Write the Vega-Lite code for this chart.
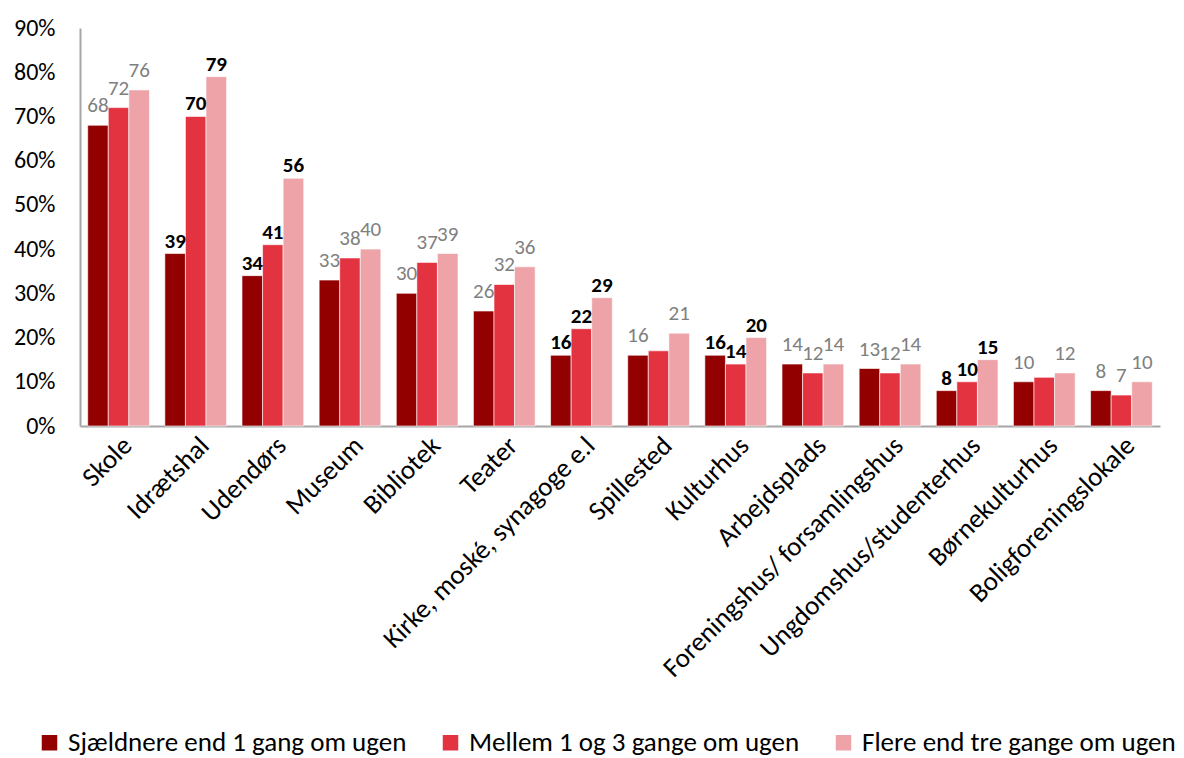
{
  "$schema": "https://vega.github.io/schema/vega-lite/v6.json",
  "width": 1080,
  "height": 398,
  "autosize": {"type": "none"},
  "padding": {"left": 80, "top": 28, "right": 24, "bottom": 332},
  "background": "white",
  "config": {
    "font": "Carlito, Liberation Sans Narrow, sans-serif",
    "view": {"stroke": null}
  },
  "data": {
    "values": [
      {"sted": "Skole", "serie": "Sjældnere end 1 gang om ugen", "pct": 68, "sig": "nej"},
      {"sted": "Skole", "serie": "Mellem 1 og 3 gange om ugen", "pct": 72, "sig": "nej"},
      {"sted": "Skole", "serie": "Flere end tre gange om ugen", "pct": 76, "sig": "nej"},
      {"sted": "Idrætshal", "serie": "Sjældnere end 1 gang om ugen", "pct": 39, "sig": "ja"},
      {"sted": "Idrætshal", "serie": "Mellem 1 og 3 gange om ugen", "pct": 70, "sig": "ja"},
      {"sted": "Idrætshal", "serie": "Flere end tre gange om ugen", "pct": 79, "sig": "ja"},
      {"sted": "Udendørs", "serie": "Sjældnere end 1 gang om ugen", "pct": 34, "sig": "ja"},
      {"sted": "Udendørs", "serie": "Mellem 1 og 3 gange om ugen", "pct": 41, "sig": "ja"},
      {"sted": "Udendørs", "serie": "Flere end tre gange om ugen", "pct": 56, "sig": "ja"},
      {"sted": "Museum", "serie": "Sjældnere end 1 gang om ugen", "pct": 33, "sig": "nej"},
      {"sted": "Museum", "serie": "Mellem 1 og 3 gange om ugen", "pct": 38, "sig": "nej"},
      {"sted": "Museum", "serie": "Flere end tre gange om ugen", "pct": 40, "sig": "nej"},
      {"sted": "Bibliotek", "serie": "Sjældnere end 1 gang om ugen", "pct": 30, "sig": "nej"},
      {"sted": "Bibliotek", "serie": "Mellem 1 og 3 gange om ugen", "pct": 37, "sig": "nej"},
      {"sted": "Bibliotek", "serie": "Flere end tre gange om ugen", "pct": 39, "sig": "nej"},
      {"sted": "Teater", "serie": "Sjældnere end 1 gang om ugen", "pct": 26, "sig": "nej"},
      {"sted": "Teater", "serie": "Mellem 1 og 3 gange om ugen", "pct": 32, "sig": "nej"},
      {"sted": "Teater", "serie": "Flere end tre gange om ugen", "pct": 36, "sig": "nej"},
      {"sted": "Kirke, moské, synagoge e.l", "serie": "Sjældnere end 1 gang om ugen", "pct": 16, "sig": "ja"},
      {"sted": "Kirke, moské, synagoge e.l", "serie": "Mellem 1 og 3 gange om ugen", "pct": 22, "sig": "ja"},
      {"sted": "Kirke, moské, synagoge e.l", "serie": "Flere end tre gange om ugen", "pct": 29, "sig": "ja"},
      {"sted": "Spillested", "serie": "Sjældnere end 1 gang om ugen", "pct": 16, "sig": "nej"},
      {"sted": "Spillested", "serie": "Mellem 1 og 3 gange om ugen", "pct": 17, "sig": "ingen"},
      {"sted": "Spillested", "serie": "Flere end tre gange om ugen", "pct": 21, "sig": "nej"},
      {"sted": "Kulturhus", "serie": "Sjældnere end 1 gang om ugen", "pct": 16, "sig": "ja"},
      {"sted": "Kulturhus", "serie": "Mellem 1 og 3 gange om ugen", "pct": 14, "sig": "ja"},
      {"sted": "Kulturhus", "serie": "Flere end tre gange om ugen", "pct": 20, "sig": "ja"},
      {"sted": "Arbejdsplads", "serie": "Sjældnere end 1 gang om ugen", "pct": 14, "sig": "nej"},
      {"sted": "Arbejdsplads", "serie": "Mellem 1 og 3 gange om ugen", "pct": 12, "sig": "nej"},
      {"sted": "Arbejdsplads", "serie": "Flere end tre gange om ugen", "pct": 14, "sig": "nej"},
      {"sted": "Foreningshus/ forsamlingshus", "serie": "Sjældnere end 1 gang om ugen", "pct": 13, "sig": "nej"},
      {"sted": "Foreningshus/ forsamlingshus", "serie": "Mellem 1 og 3 gange om ugen", "pct": 12, "sig": "nej"},
      {"sted": "Foreningshus/ forsamlingshus", "serie": "Flere end tre gange om ugen", "pct": 14, "sig": "nej"},
      {"sted": "Ungdomshus/studenterhus", "serie": "Sjældnere end 1 gang om ugen", "pct": 8, "sig": "ja"},
      {"sted": "Ungdomshus/studenterhus", "serie": "Mellem 1 og 3 gange om ugen", "pct": 10, "sig": "ja"},
      {"sted": "Ungdomshus/studenterhus", "serie": "Flere end tre gange om ugen", "pct": 15, "sig": "ja"},
      {"sted": "Børnekulturhus", "serie": "Sjældnere end 1 gang om ugen", "pct": 10, "sig": "nej"},
      {"sted": "Børnekulturhus", "serie": "Mellem 1 og 3 gange om ugen", "pct": 11, "sig": "ingen"},
      {"sted": "Børnekulturhus", "serie": "Flere end tre gange om ugen", "pct": 12, "sig": "nej"},
      {"sted": "Boligforeningslokale", "serie": "Sjældnere end 1 gang om ugen", "pct": 8, "sig": "nej"},
      {"sted": "Boligforeningslokale", "serie": "Mellem 1 og 3 gange om ugen", "pct": 7, "sig": "nej"},
      {"sted": "Boligforeningslokale", "serie": "Flere end tre gange om ugen", "pct": 10, "sig": "nej"}
    ]
  },
  "encoding": {
    "x": {
      "field": "sted", "type": "nominal", "sort": null, "title": null,
      "scale": {"paddingInner": 0.2, "paddingOuter": 0.1},
      "axis": {
        "labelAngle": -45, "labelFontSize": 27, "labelColor": "#000000",
        "labelAlign": "right", "labelBaseline": "top", "labelPadding": 6,
        "ticks": false, "domainColor": "#a6a6a6", "domainWidth": 2, "labelLimit": 400
      }
    },
    "xOffset": {
      "field": "serie", "type": "nominal",
      "sort": ["Sjældnere end 1 gang om ugen", "Mellem 1 og 3 gange om ugen", "Flere end tre gange om ugen"],
      "scale": {"paddingInner": 0, "paddingOuter": 0}
    },
    "y": {
      "field": "pct", "type": "quantitative", "title": null,
      "scale": {"domain": [0, 90], "nice": false},
      "axis": {
        "values": [0, 10, 20, 30, 40, 50, 60, 70, 80, 90],
        "labelExpr": "datum.value + '%'", "labelFontSize": 24, "labelColor": "#000000",
        "ticks": false, "labelPadding": 25, "grid": false,
        "domainColor": "#a6a6a6", "domainWidth": 2
      }
    }
  },
  "layer": [
    {
      "mark": {"type": "bar", "stroke": "#ffffff", "strokeOpacity": 0.6, "strokeWidth": 1},
      "encoding": {
        "color": {
          "field": "serie", "type": "nominal", "title": null,
          "sort": ["Sjældnere end 1 gang om ugen", "Mellem 1 og 3 gange om ugen", "Flere end tre gange om ugen"],
          "scale": {
            "domain": ["Sjældnere end 1 gang om ugen", "Mellem 1 og 3 gange om ugen", "Flere end tre gange om ugen"],
            "range": ["#920000", "#e33240", "#eda3a7"]
          },
          "legend": {
            "orient": "none", "legendX": -44, "legendY": 701, "direction": "horizontal",
            "symbolType": "square", "symbolSize": 240, "symbolStrokeWidth": 0,
            "labelFontSize": 27, "labelColor": "#000000", "columnPadding": 30,
            "labelOffset": 5, "labelLimit": 500
          }
        }
      }
    },
    {
      "transform": [{"filter": "datum.sig === 'nej'"}],
      "mark": {"type": "text", "baseline": "alphabetic", "dy": -13, "fontSize": 21, "color": "#7f7f7f"},
      "encoding": {"text": {"field": "pct", "type": "quantitative"}}
    },
    {
      "transform": [{"filter": "datum.sig === 'ja'"}],
      "mark": {"type": "text", "baseline": "alphabetic", "dy": -6, "fontSize": 21, "fontWeight": "bold", "color": "#000000"},
      "encoding": {"text": {"field": "pct", "type": "quantitative"}}
    }
  ]
}
